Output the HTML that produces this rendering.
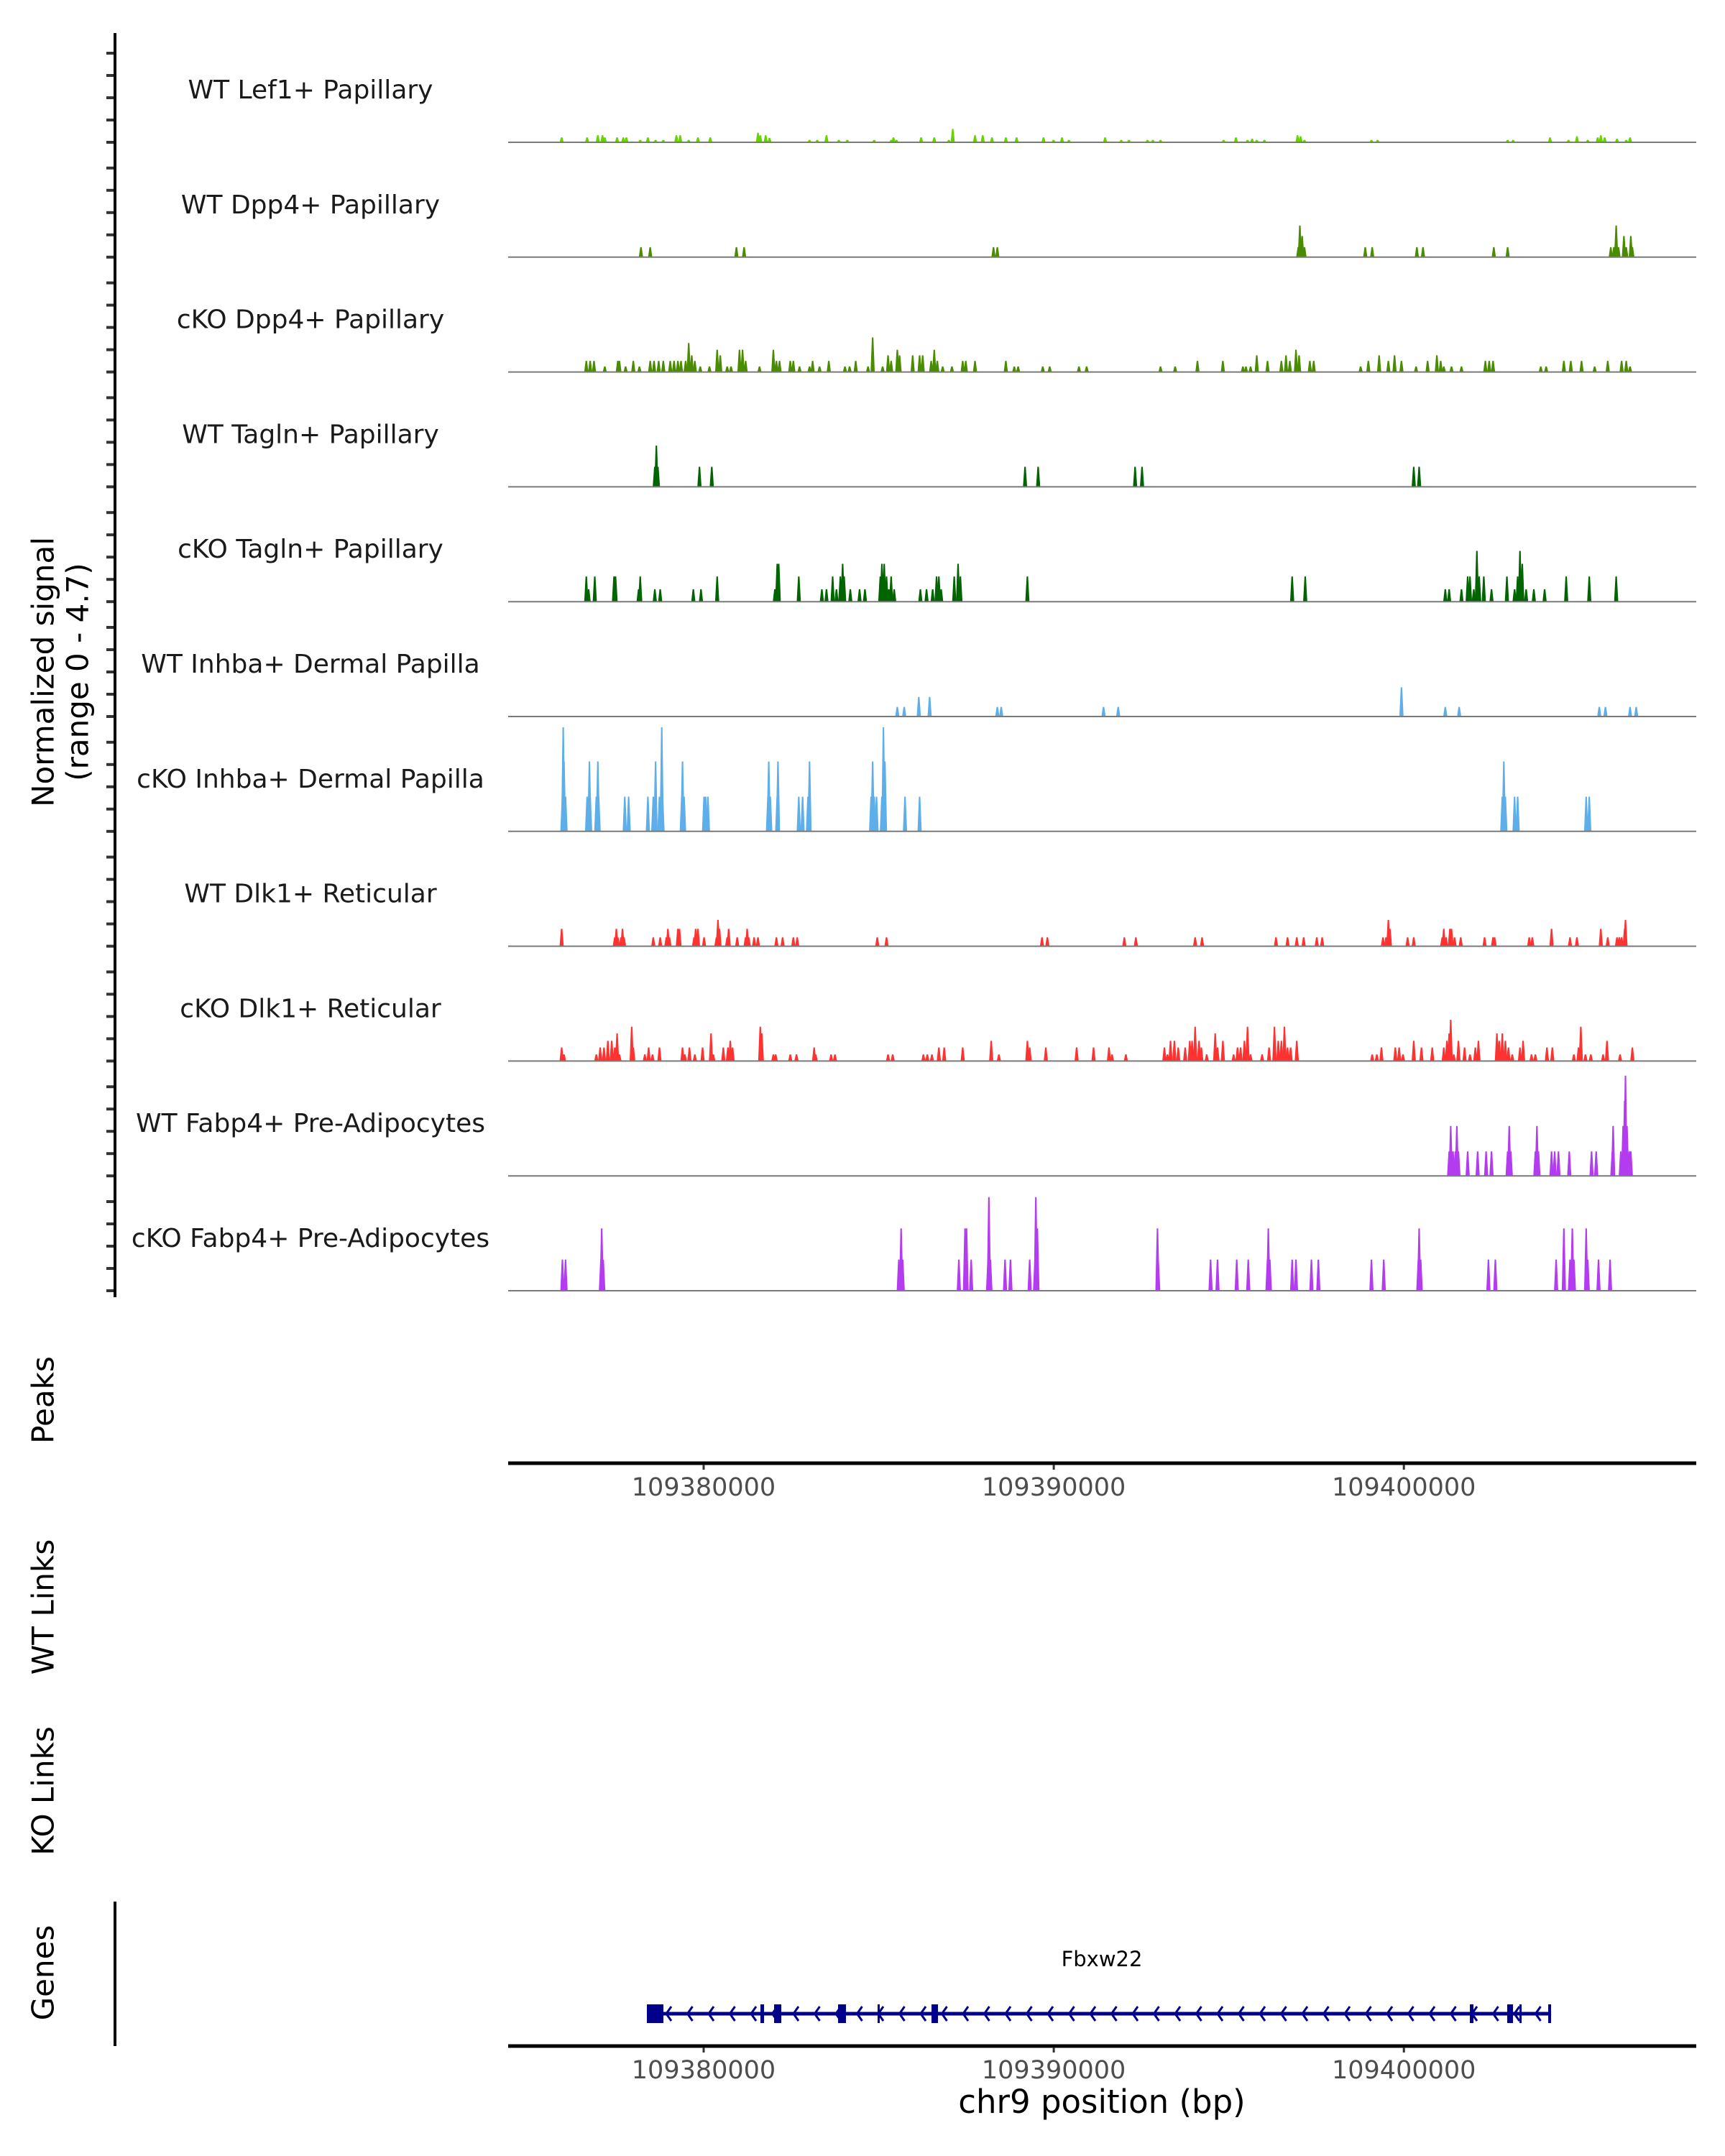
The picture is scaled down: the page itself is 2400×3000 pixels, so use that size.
<!DOCTYPE html>
<html><head><meta charset="utf-8">
<style>
html,body{margin:0;padding:0;background:#fff;}
svg{display:block;font-family:"DejaVu Sans","Liberation Sans",sans-serif;}
</style></head>
<body>
<svg id="chart" width="2400" height="3000" viewBox="0 0 2400 3000" xmlns="http://www.w3.org/2000/svg">
<rect x="0" y="0" width="2400" height="3000" fill="#fff"/>
<g id="tracks"></g>
<g id="axes"></g>
<g id="gene"></g>
<text x="0" y="0" transform="translate(63,935) rotate(-90)" text-anchor="middle" dominant-baseline="middle" font-size="42" fill="#000">Normalized signal</text>
<text x="0" y="0" transform="translate(111,935) rotate(-90)" text-anchor="middle" dominant-baseline="middle" font-size="42" fill="#000">(range 0 - 4.7)</text>
<text x="0" y="0" transform="translate(63,1948) rotate(-90)" text-anchor="middle" dominant-baseline="middle" font-size="42" fill="#000">Peaks</text>
<text x="0" y="0" transform="translate(63,2236) rotate(-90)" text-anchor="middle" dominant-baseline="middle" font-size="42" fill="#000">WT Links</text>
<text x="0" y="0" transform="translate(63,2492) rotate(-90)" text-anchor="middle" dominant-baseline="middle" font-size="42" fill="#000">KO Links</text>
<text x="0" y="0" transform="translate(63,2745) rotate(-90)" text-anchor="middle" dominant-baseline="middle" font-size="42" fill="#000">Genes</text>
<text x="1533" y="2928" text-anchor="middle" dominant-baseline="middle" font-size="45" fill="#000">chr9 position (bp)</text>
<text x="1533" y="2728" text-anchor="middle" dominant-baseline="middle" font-size="29" fill="#000">Fbxw22</text>
</svg>
<script>
const regionAnchor = 109380000;
const domainStart = 109374416;
const domainEnd = 109408351;
const trackNames = ["WT Lef1+ Papillary","WT Dpp4+ Papillary","cKO Dpp4+ Papillary","WT Tagln+ Papillary","cKO Tagln+ Papillary","WT Inhba+ Dermal Papilla","cKO Inhba+ Dermal Papilla","WT Dlk1+ Reticular","cKO Dlk1+ Reticular","WT Fabp4+ Pre-Adipocytes","cKO Fabp4+ Pre-Adipocytes"];
const trackColors = ["#66d200","#4a8c00","#4a8c00","#006400","#006400","#5eaee9","#5eaee9","#ff3232","#ff3232","#b43cf0","#b43cf0"];
const xTicks = [109380000,109390000,109400000];
const xTickLabels = ["109380000","109390000","109400000"];
const yMax = 4.7;

const wtLef1Offsets = [-4056,-3329,-3022,-2890,-2824,-2472,-2296,-2208,-1812,-1593,-1373,-1153,-779,-670,-427,-163,188,1551,1617,1771,1880,3024,3244,3508,3859,4102,4871,5355,5421,5508,6211,6586,7003,7114,7751,7971,8235,8631,8938,9707,9993,10235,10433,11466,11928,12148,12676,12830,13049,14852,15204,15534,15666,15798,16017,16963,17050,17161,19074,19249,22964,23119,24174,24702,24943,25252,25537,25625,25735,26087,26351,26460];
const wtLef1Values = [0.22,0.22,0.32,0.32,0.22,0.22,0.22,0.22,0.11,0.22,0.11,0.11,0.32,0.32,0.11,0.22,0.22,0.43,0.32,0.32,0.2,0.11,0.11,0.32,0.11,0.11,0.11,0.11,0.22,0.11,0.22,0.22,0.11,0.6,0.32,0.32,0.22,0.22,0.22,0.22,0.11,0.22,0.11,0.22,0.11,0.11,0.11,0.11,0.11,0.11,0.22,0.11,0.16,0.11,0.11,0.32,0.27,0.11,0.11,0.11,0.11,0.11,0.22,0.11,0.27,0.11,0.22,0.32,0.22,0.16,0.11,0.22];

const wtDpp4Offsets = [-1791,-1527,936,1155,8279,8388,16984,17029,17095,17161,18897,19095,20371,20546,22569,22964,25910,25998,26064,26130,26285,26351,26482,26526];
const wtDpp4Values = [0.45,0.45,0.45,0.45,0.45,0.45,0.45,1.42,0.95,0.45,0.45,0.45,0.45,0.45,0.45,0.45,0.45,0.45,1.42,0.45,0.95,0.45,0.95,0.45];

const koDpp4Offsets = [-3352,-3242,-3132,-2824,-2451,-2406,-2230,-2010,-1835,-1527,-1417,-1285,-1153,-955,-845,-736,-647,-515,-427,-340,-252,-97,166,386,474,672,781,1023,1111,1199,1595,1991,2078,2167,2474,2562,2738,3024,3112,3310,3574,4036,4168,4343,4695,4827,5112,5267,5355,5531,5596,5970,6168,6256,6498,6586,6673,6827,7091,7399,7487,7751,8631,8872,8982,9686,9884,10719,10939,13049,13467,14104,14830,15402,15489,15621,15798,16105,16501,16633,16743,16918,17007,17314,17425,18765,18985,19293,19557,19733,19931,20348,20678,20942,21052,21140,21360,21645,22327,22437,22547,23910,24064,24570,24768,25075,25449,25823,26219,26351,26460];
const koDpp4Values = [0.5,0.5,0.5,0.25,0.5,0.5,0.25,0.5,0.25,0.5,0.5,0.5,0.5,0.5,0.5,0.5,0.5,0.5,1.3,0.75,0.5,0.25,0.25,1.0,0.75,0.25,0.25,1.0,1.0,0.5,0.25,1.0,0.5,0.5,0.5,0.5,0.25,0.25,0.5,0.25,0.5,0.25,0.25,0.5,0.25,1.55,0.25,0.75,0.5,1.0,0.75,0.75,0.75,0.75,0.5,1.0,0.5,0.25,0.25,0.5,0.5,0.5,0.5,0.25,0.25,0.25,0.25,0.25,0.25,0.25,0.25,0.5,0.5,0.25,0.25,0.25,0.75,0.5,0.5,0.75,0.5,1.0,0.75,0.5,0.5,0.25,0.5,0.75,0.5,0.75,0.5,0.25,0.5,0.75,0.5,0.25,0.25,0.25,0.5,0.5,0.5,0.25,0.25,0.5,0.5,0.5,0.25,0.5,0.5,0.5,0.25];

const wtTaglnOffsets = [-1395,-1351,-1307,-120,232,9180,9554,12323,12521,20282,20436];
const wtTaglnValues = [0.9,1.85,0.9,0.9,0.9,0.9,0.9,0.9,0.9,0.9,0.9];

const koTaglnOffsets = [-3352,-3286,-3110,-2560,-2517,-1857,-1812,-1395,-1241,-295,-76,386,2035,2101,2144,2717,3376,3508,3684,3793,3904,3970,4013,4189,4453,4607,5046,5091,5157,5223,5289,5355,5442,6190,6366,6541,6652,6718,6784,7157,7267,7333,9246,16809,17182,21183,21293,21645,21822,21888,21997,22085,22151,22283,22503,22943,23162,23250,23316,23382,23492,23712,24020,24636,25295,26064];
const koTaglnValues = [1.13,0.56,1.13,1.13,1.13,0.56,1.13,0.56,0.56,0.56,0.56,1.13,0.56,1.7,1.7,1.13,0.56,0.56,1.13,0.56,1.13,1.7,1.13,0.56,0.56,0.56,1.13,1.7,1.7,1.13,0.56,1.13,0.56,0.56,0.56,0.56,1.13,1.13,0.56,1.13,1.7,1.13,1.13,1.13,1.13,0.56,0.56,0.56,1.13,1.13,0.56,2.28,1.13,1.13,0.56,1.13,0.56,1.13,2.28,1.7,0.56,0.56,0.56,1.13,1.13,1.13];

const wtInhbaOffsets = [5531,5728,6145,6454,8388,8499,11422,11840,19931,21183,21579,25581,25757,26460,26636];
const wtInhbaValues = [0.43,0.43,0.88,0.88,0.43,0.43,0.43,0.43,1.31,0.43,0.43,0.43,0.43,0.43,0.43];

const koInhbaOffsets = [-4034,-4011,-3989,-3945,-3329,-3263,-3242,-3066,-3022,-3000,-2253,-2142,-1593,-1439,-1373,-1263,-1197,-1175,-625,-604,-559,12,56,122,1837,1859,1903,2101,2123,2717,2826,2980,3024,4783,4827,4871,4937,5091,5135,5178,5751,6168,22811,22855,22898,23162,23250,25207,25295];
const koInhbaValues = [1.56,4.67,3.14,1.56,1.56,3.14,1.56,1.56,3.14,1.56,1.56,1.56,1.56,1.56,3.14,1.56,4.67,1.56,1.56,3.14,1.56,1.56,1.56,1.56,1.56,3.14,1.56,1.56,3.14,1.56,1.56,1.56,3.14,1.56,3.14,1.56,1.56,1.56,4.67,3.14,1.56,1.56,1.56,3.14,1.56,1.56,1.56,1.56,1.56];

const wtDlk1Offsets = [-4056,-2538,-2494,-2451,-2362,-2319,-2274,-1439,-1241,-1065,-1021,-977,-736,-691,-274,-229,-163,12,365,408,452,672,715,958,1199,1243,1287,1441,1551,2078,2255,2562,2672,4959,5223,9664,9817,12016,12346,14038,14236,16347,16677,16941,17138,17512,17666,19403,19490,19557,19601,20107,20282,21096,21140,21206,21315,21360,21448,21624,22305,22547,22591,23580,23668,24218,24745,24943,25625,25823,26087,26153,26219,26306,26329];
const wtDlk1Values = [0.78,0.4,0.78,0.4,0.4,0.78,0.4,0.4,0.4,0.4,0.78,0.4,0.78,0.78,0.4,0.78,0.78,0.4,0.4,1.18,0.78,0.4,0.78,0.4,0.4,0.78,0.4,0.4,0.4,0.4,0.4,0.4,0.4,0.4,0.4,0.4,0.4,0.4,0.4,0.4,0.4,0.4,0.4,0.4,0.4,0.4,0.4,0.4,0.4,1.18,0.78,0.4,0.4,0.4,0.78,0.4,0.78,0.78,0.4,0.4,0.4,0.4,0.4,0.4,0.4,0.78,0.4,0.4,0.78,0.4,0.4,0.4,0.4,0.78,1.18];

const koDlk1Offsets = [-4056,-3989,-3066,-2956,-2846,-2736,-2626,-2538,-2472,-2406,-2055,-2010,-1680,-1571,-1461,-1263,-604,-537,-406,-252,-31,210,276,562,694,760,826,1617,1661,1991,2057,2474,2651,3156,3200,3640,3750,5267,5399,6277,6388,6520,6718,6871,7399,8213,8433,9246,9312,9773,10653,11136,11577,11664,12060,13160,13247,13335,13445,13555,13753,13885,13951,14038,14149,14215,14368,14611,14677,14830,15138,15248,15336,15446,15534,15621,15951,16149,16303,16413,16501,16588,16677,16765,16941,19095,19227,19359,19755,19865,19975,20282,20502,20810,21140,21228,21293,21338,21426,21558,21733,21888,22041,22129,22657,22723,22811,22898,22987,23096,23316,23405,23646,23756,24086,24240,24856,24988,25054,25186,25339,25691,25801,26175,26526];
const koDlk1Values = [0.61,0.3,0.3,0.61,0.61,0.91,0.91,0.61,1.24,0.3,1.54,0.61,0.3,0.61,0.3,0.61,0.61,0.3,0.61,0.3,0.61,1.24,0.3,0.61,0.61,0.91,0.61,1.54,1.24,0.3,0.3,0.3,0.3,0.61,0.3,0.3,0.3,0.3,0.3,0.3,0.3,0.3,0.61,0.61,0.61,0.91,0.3,0.91,0.61,0.61,0.61,0.61,0.61,0.3,0.3,0.61,0.3,0.91,0.91,0.61,0.61,0.91,0.91,1.54,0.91,0.61,0.3,1.24,0.61,0.91,0.3,0.61,0.61,0.91,1.54,0.3,0.3,0.61,1.54,0.91,0.91,1.54,0.61,0.61,0.91,0.3,0.3,0.61,0.61,0.61,0.3,0.91,0.61,0.61,0.61,0.91,1.24,1.85,0.3,0.91,0.61,0.3,0.61,0.91,1.24,0.91,1.24,0.91,0.61,0.3,0.61,0.91,0.3,0.3,0.61,0.61,0.3,0.61,1.54,0.3,0.3,0.3,0.91,0.3,0.61];

const wtFabp4Offsets = [21294,21338,21404,21470,21513,21558,21822,22107,22349,22503,22964,23009,23053,23756,23800,23844,24218,24306,24415,24724,25361,25493,25955,25977,26196,26262,26306,26329,26373,26438,26482];
const wtFabp4Values = [1.1,2.24,1.1,1.1,2.24,1.1,1.1,1.1,1.1,1.1,1.1,2.24,1.1,1.1,2.24,1.1,1.1,1.1,1.1,1.1,1.1,1.1,1.1,2.24,1.1,2.24,3.37,4.5,2.24,1.1,1.1];

const koFabp4Offsets = [-4034,-3945,-2934,-2912,-2868,5574,5640,5685,7289,7465,7509,7641,8124,8147,8190,8608,8763,9312,9466,9488,9532,12962,12983,14479,14677,15226,15555,16105,16128,16171,16809,16918,17359,17557,19074,19425,20414,20436,20480,22415,22613,24349,24570,24745,24811,24856,25207,25252,25559,25889];
const koFabp4Values = [1.4,1.4,1.4,2.8,1.4,1.4,2.8,1.4,1.4,2.8,2.8,1.4,1.4,4.2,1.4,1.4,1.4,1.4,1.4,4.2,2.8,2.8,1.4,1.4,1.4,1.4,1.4,1.4,2.8,1.4,1.4,1.4,1.4,1.4,1.4,1.4,1.4,2.8,1.4,1.4,1.4,1.4,2.8,1.4,2.8,1.4,2.8,1.4,1.4,1.4];

const exonStartOffsets = [-1622,1622,2012,3839,4968,6508,21885,22952,23302,24123];
const exonEndOffsets = [-1150,1725,2217,4065,5030,6693,21988,23117,23343,24205];
const geneStartOffset = -1622;
const geneEndOffset = 24205;

const trackOffsets = [wtLef1Offsets,wtDpp4Offsets,koDpp4Offsets,wtTaglnOffsets,koTaglnOffsets,wtInhbaOffsets,koInhbaOffsets,wtDlk1Offsets,koDlk1Offsets,wtFabp4Offsets,koFabp4Offsets];
const trackValues = [wtLef1Values,wtDpp4Values,koDpp4Values,wtTaglnValues,koTaglnValues,wtInhbaValues,koInhbaValues,wtDlk1Values,koDlk1Values,wtFabp4Values,koFabp4Values];

const NS = "http://www.w3.org/2000/svg";
const plotLeft = 707, plotRight = 2360;
const firstBaseline = 198, trackStep = 159.8;
const unitPx = 31;
function xScale(bp){ return plotLeft + (bp - domainStart) / (domainEnd - domainStart) * (plotRight - plotLeft); }
function yScale(v, base){ return base - v * unitPx; }
function mk(tag, attrs, parent){ const e = document.createElementNS(NS, tag); for (const k in attrs) e.setAttribute(k, attrs[k]); parent.appendChild(e); return e; }

const tracksG = document.getElementById('tracks');
const axesG = document.getElementById('axes');
const geneG = document.getElementById('gene');

const leftAxis = mk('line', {x1:160, y1:46, x2:160, y2:1805, stroke:'#000', 'stroke-width':4}, axesG);



const halfW = 60;
trackNames.forEach((name, i) => {
  const base = firstBaseline + trackStep * i;
  const g = mk('g', {}, tracksG);
  
  
  for (let k = 0; k <= 4; k++) {
    const t = mk('line', {x1:148, x2:160, y1:yScale(k, base), y2:yScale(k, base), stroke:'#333', 'stroke-width':4}, g);
    
    
  }
  const lbl = mk('text', {x:432, y:base - 71, 'text-anchor':'middle', 'dominant-baseline':'middle', 'font-size':36, fill:'#1a1a1a'}, g);
  lbl.textContent = name;
  
  
  const offs = trackOffsets[i], vals = trackValues[i];
  offs.forEach((o, j) => {
    const cx = xScale(regionAnchor + o);
    const wpx = halfW / (domainEnd - domainStart) * (plotRight - plotLeft);
    const top = yScale(Math.min(vals[j], yMax), base);
    const pts = [[cx - wpx, base], [cx - wpx * 0.35, top], [cx + wpx * 0.35, top], [cx + wpx, base]].map(p => p.join(',')).join(' ');
    const p = mk('polygon', {points: pts, fill: trackColors[i]}, g);
    
    
  });
  const bl = mk('line', {x1:plotLeft, x2:plotRight, y1:base, y2:base, stroke:'#7a7a7a', 'stroke-width':2}, g);
  
  
});

function xAxis(y, name){
  const g = mk('g', {}, axesG);
  
  
  const l = mk('line', {x1:plotLeft, x2:plotRight, y1:y, y2:y, stroke:'#000', 'stroke-width':5}, g);
  
  
  xTicks.forEach((t, i) => {
    const x = xScale(t);
    const tk = mk('line', {x1:x, x2:x, y1:y + 2, y2:y + 9, stroke:'#333', 'stroke-width':3}, g);
    
    
    const tl = mk('text', {x:x, y:y + 35, 'text-anchor':'middle', 'dominant-baseline':'middle', 'font-size':35, fill:'#4d4d4d'}, g);
    tl.textContent = xTickLabels[i];
    
    
  });
}
xAxis(2036, 'peaks-x-axis');
xAxis(2847, 'genes-x-axis');

const genesAxis = mk('line', {x1:160, y1:2646, x2:160, y2:2847, stroke:'#000', 'stroke-width':4}, axesG);



const gy = 2802;
const gx1 = xScale(regionAnchor + geneStartOffset), gx2 = xScale(regionAnchor + geneEndOffset);
const gl = mk('line', {x1:gx1, x2:gx2, y1:gy, y2:gy, stroke:'#00008b', 'stroke-width':5}, geneG);


for (let x = gx1 + 30; x < gx2 - 10; x += 29.5) {
  const c = mk('polyline', {points:`${x+4},${gy-10} ${x-3},${gy} ${x+4},${gy+10}`, fill:'none', stroke:'#00008b', 'stroke-width':3}, geneG);
  
  
}
exonStartOffsets.forEach((s, i) => {
  const x1 = xScale(regionAnchor + s), x2 = xScale(regionAnchor + exonEndOffsets[i]);
  const r = mk('rect', {x:x1, y:gy - 13, width:Math.max(x2 - x1, 3), height:26, fill:'#00008b'}, geneG);
  
  
});
</script>
</body></html>
